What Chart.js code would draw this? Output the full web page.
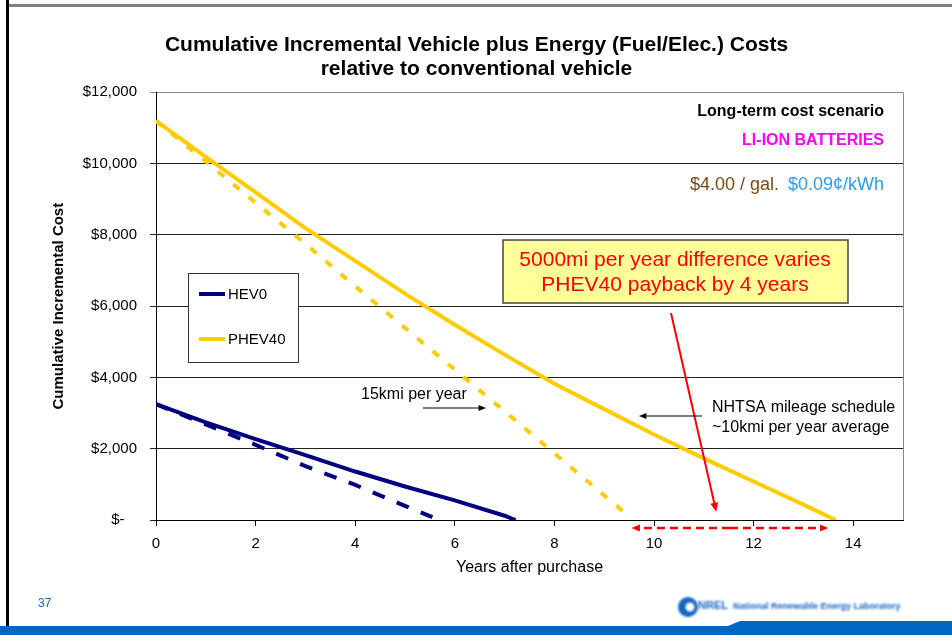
<!DOCTYPE html>
<html>
<head>
<meta charset="utf-8">
<script src="https://cdn.jsdelivr.net/npm/chart.js@4/dist/chart.umd.min.js"></script>
<style>
  html, body { margin: 0; padding: 0; background: #fff; }
  #wrap { position: relative; width: 952px; height: 635px; }
</style>
</head>
<body>
<div id="wrap"><canvas id="chart" width="952" height="635"></canvas></div>
<script>
// cumulative incremental cost ($) by years after purchase
const hevYears = [0, 1, 2, 3, 4, 5, 6, 7, 7.22]
const hevCost = [3250, 2740, 2270, 1820, 1360, 940, 550, 120, 0]
const phevYears = [0, 1, 2, 3, 4, 5, 6, 7, 8, 9, 10, 11, 12, 13, 13.65]
const phevCost = [11200, 10190, 9190, 8190, 7270, 6350, 5480, 4640, 3820, 3110, 2400, 1730, 1080, 430, 0]
// 15kmi per year case
const hevFastYears = [0, 1, 2, 3, 4, 5, 5.55]
const hevFastCost = [3250, 2680, 2110, 1510, 985, 395, 80]
const phevFastYears = [0, 1, 2, 3, 4, 5, 6, 7, 8, 9, 9.45]
const phevFastCost = [11200, 10060, 8900, 7750, 6560, 5390, 4220, 3050, 1870, 690, 160]

const seriesNames = ['HEV0', 'PHEV40']
const navy = '#000080'
const gold = '#FFCC00'
const family = '"Liberation Sans", Arial, sans-serif'

const toPoints = (xs, ys) => xs.map((x, i) => ({ x: x, y: ys[i] }))

function arrow(ctx, x1, y1, x2, y2, color, width, head) {
    const a = Math.atan2(y2 - y1, x2 - x1)
    ctx.save()
    ctx.strokeStyle = color
    ctx.fillStyle = color
    ctx.lineWidth = width
    ctx.beginPath()
    ctx.moveTo(x1, y1)
    ctx.lineTo(x2 - Math.cos(a) * head * 0.8, y2 - Math.sin(a) * head * 0.8)
    ctx.stroke()
    ctx.setLineDash([])
    ctx.beginPath()
    ctx.moveTo(x2, y2)
    ctx.lineTo(x2 - head * Math.cos(a - 0.4), y2 - head * Math.sin(a - 0.4))
    ctx.lineTo(x2 - head * Math.cos(a + 0.4), y2 - head * Math.sin(a + 0.4))
    ctx.closePath()
    ctx.fill()
    ctx.restore()
}

// slide frame, page number and logo
const slideFrame = {
    id: 'slideFrame',
    beforeDraw(chart) {
        const ctx = chart.ctx
        ctx.save()
        ctx.fillStyle = '#fff'
        ctx.fillRect(0, 0, chart.width, chart.height)

        ctx.fillStyle = '#808080'
        ctx.fillRect(8, 4, chart.width - 8, 3)
        ctx.fillStyle = '#000'
        ctx.fillRect(6, 0, 3, 626)

        ctx.fillStyle = '#0066C4'
        ctx.fillRect(0, 626, chart.width, 9)
        ctx.beginPath()
        ctx.moveTo(728, 626)
        ctx.lineTo(740, 621)
        ctx.lineTo(952, 621)
        ctx.lineTo(952, 626)
        ctx.closePath()
        ctx.fill()

        ctx.font = '12px ' + family
        ctx.fillStyle = '#1F5FB0'
        ctx.textBaseline = 'middle'
        ctx.fillText('37', 38, 604)

        ctx.filter = 'blur(0.8px)'
        ctx.fillStyle = '#1565C0'
        ctx.beginPath()
        ctx.arc(688, 607, 10, 0, Math.PI * 2)
        ctx.fill()
        ctx.fillStyle = '#fff'
        ctx.beginPath()
        ctx.arc(690, 607, 4.5, 0, Math.PI * 2)
        ctx.fill()
        ctx.fillStyle = '#1565C0'
        ctx.font = 'bold 11px ' + family
        ctx.fillText('NREL', 698, 606)
        ctx.font = 'bold 9px ' + family
        ctx.fillText('National Renewable Energy Laboratory', 733, 607, 180)
        ctx.restore()
    }
}

// legend box, scenario labels and the callout arrows
const notes = {
    id: 'notes',
    afterDraw(chart) {
        const ctx = chart.ctx
        const { top, bottom, right } = chart.chartArea
        const x = chart.scales.x
        const y = chart.scales.y
        const font = (size, bold) => (bold ? 'bold ' : '') + size + 'px ' + family

        ctx.save()
        ctx.strokeStyle = '#888'
        ctx.lineWidth = 1
        ctx.beginPath()
        ctx.moveTo(right + 0.5, top)
        ctx.lineTo(right + 0.5, bottom)
        ctx.stroke()

        // legend
        ctx.fillStyle = '#fff'
        ctx.fillRect(188, 273, 110, 89)
        ctx.strokeStyle = '#333'
        ctx.strokeRect(188.5, 273.5, 110, 89)
        const legendColors = [navy, gold]
        seriesNames.forEach((name, i) => {
            const ly = 294 + i * 45
            ctx.strokeStyle = legendColors[i]
            ctx.lineWidth = 4
            ctx.beginPath()
            ctx.moveTo(199, ly)
            ctx.lineTo(225, ly)
            ctx.stroke()
            ctx.fillStyle = '#000'
            ctx.font = font(15)
            ctx.textBaseline = 'middle'
            ctx.textAlign = 'left'
            ctx.fillText(name, 228, ly + 1)
        })

        // scenario text
        const tx = right - 19
        ctx.textAlign = 'right'
        ctx.fillStyle = '#000'
        ctx.font = font(16, true)
        ctx.fillText('Long-term cost scenario', tx, 112)
        ctx.fillStyle = '#FF00FF'
        ctx.fillText('LI-ION BATTERIES', tx, 141)
        ctx.font = font(18)
        const elec = '$0.09¢/kWh'
        const elecW = ctx.measureText(elec).width
        ctx.fillStyle = '#2C9BEF'
        ctx.fillText(elec, tx, 185)
        ctx.fillStyle = '#7B4A14'
        ctx.fillText('$4.00 / gal.', tx - elecW - 9, 185)

        // callout box
        ctx.fillStyle = '#FFFF99'
        ctx.fillRect(503, 240, 345, 63)
        ctx.strokeStyle = '#444'
        ctx.lineWidth = 1.5
        ctx.strokeRect(503, 240, 345, 63)
        ctx.fillStyle = '#FF0000'
        ctx.textAlign = 'center'
        ctx.font = font(21)
        ctx.fillText('5000mi per year difference varies', 675, 260)
        ctx.fillText('PHEV40 payback by 4 years', 675, 285)

        arrow(ctx, 671, 313, x.getPixelForValue(11.25), y.getPixelForValue(230), '#FF0000', 2, 10)

        // payback spread below the axis
        const ay = bottom + 8
        const x1 = x.getPixelForValue(9.55)
        const x2 = x.getPixelForValue(13.5)
        ctx.save()
        ctx.setLineDash([8, 5])
        arrow(ctx, (x1 + x2) / 2, ay, x2, ay, '#FF0000', 2.5, 9)
        arrow(ctx, (x1 + x2) / 2, ay, x1, ay, '#FF0000', 2.5, 9)
        ctx.restore()

        // mileage labels
        ctx.fillStyle = '#000'
        ctx.textAlign = 'left'
        ctx.font = font(16)
        ctx.fillText('15kmi per year', 361, 395)
        arrow(ctx, 423, 408, 486, 408, '#000', 1.2, 8)
        ctx.fillText('NHTSA mileage schedule', 712, 408)
        ctx.fillText('~10kmi per year average', 712, 428)
        arrow(ctx, 702, 416, 639, 416, '#000', 1.2, 8)
        ctx.restore()
    }
}

new Chart(document.getElementById('chart').getContext('2d'), {
    type: 'line',
    data: {
        datasets: [
            { label: seriesNames[0], data: toPoints(hevYears, hevCost), borderColor: navy, borderWidth: 4 },
            { label: seriesNames[1], data: toPoints(phevYears, phevCost), borderColor: gold, borderWidth: 4 },
            { label: seriesNames[0] + ' 15kmi', data: toPoints(hevFastYears, hevFastCost), borderColor: navy, borderWidth: 4, borderDash: [13, 13] },
            { label: seriesNames[1] + ' 15kmi', data: toPoints(phevFastYears, phevFastCost), borderColor: gold, borderWidth: 4, borderDash: [8, 12] }
        ]
    },
    options: {
        responsive: false,
        animation: false,
        layout: { padding: { left: 50, right: 49, top: 0, bottom: 58 } },
        elements: { point: { radius: 0 }, line: { tension: 0, borderCapStyle: 'butt' } },
        plugins: {
            legend: { display: false },
            tooltip: { enabled: false },
            title: {
                display: true,
                text: ['Cumulative Incremental Vehicle plus Energy (Fuel/Elec.) Costs', 'relative to conventional vehicle'],
                color: '#000',
                font: { family: family, size: 21, weight: 'bold', lineHeight: 1.15 },
                padding: { top: 33, bottom: 11 }
            }
        },
        scales: {
            x: {
                type: 'linear',
                min: 0,
                max: 15,
                grid: { drawOnChartArea: false, drawTicks: true, tickLength: 6, color: '#000' },
                border: { color: '#000', width: 1 },
                ticks: {
                    stepSize: 2,
                    includeBounds: false,
                    maxRotation: 0,
                    padding: 9,
                    color: '#000',
                    font: { family: family, size: 15 }
                },
                title: {
                    display: true,
                    text: 'Years after purchase',
                    color: '#000',
                    padding: 0,
                    font: { family: family, size: 16 }
                },
                afterFit: s => { s.height = 57 }
            },
            y: {
                min: 0,
                max: 12000,
                grid: {
                    drawTicks: true,
                    tickLength: 6,
                    color: c => c.tick && c.tick.value === 12000 ? '#888' : '#222'
                },
                border: { color: '#000', width: 1 },
                ticks: {
                    stepSize: 2000,
                    padding: 13,
                    color: '#000',
                    font: { family: family, size: 15 },
                    callback: v => v === 0 ? '$-   ' : '$' + v.toLocaleString('en-US')
                },
                title: {
                    display: true,
                    text: 'Cumulative Incremental Cost',
                    color: '#000',
                    padding: 0,
                    font: { family: family, size: 15, weight: 'bold' }
                },
                afterFit: s => { s.width = 106 }
            }
        }
    },
    plugins: [slideFrame, notes]
})
</script>
</body>
</html>
